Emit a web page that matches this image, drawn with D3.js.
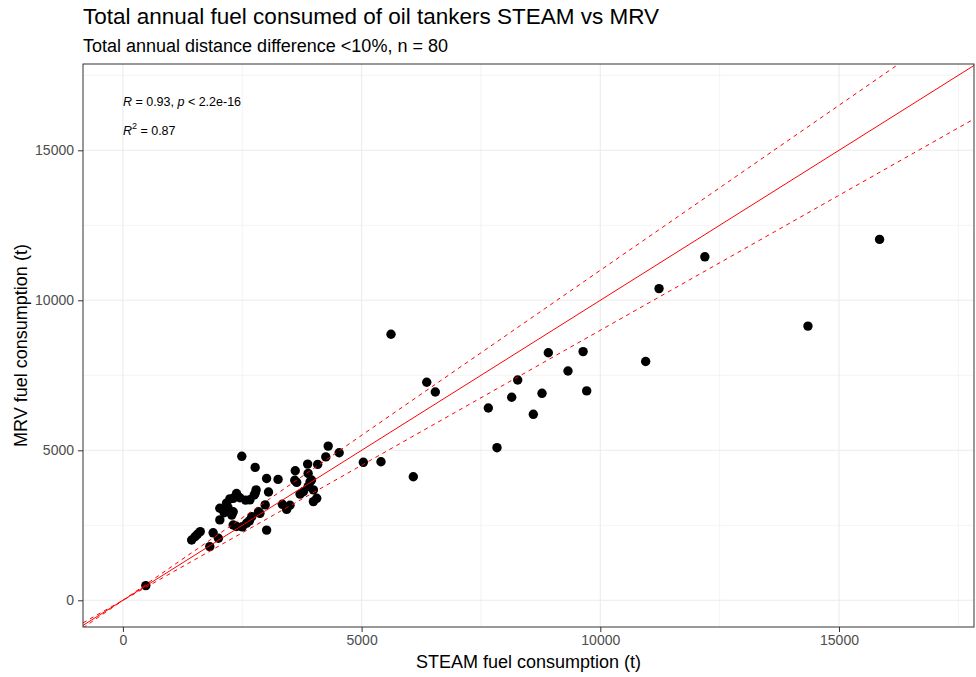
<!DOCTYPE html>
<html><head><meta charset="utf-8">
<script src="https://cdn.jsdelivr.net/npm/d3@7"></script>
<style>body{margin:0;background:#fff}svg{display:block}text{font-family:"Liberation Sans",Arial,sans-serif}</style>
</head><body><svg id="c" width="976" height="677"></svg>
<script>
const steam = [480,15850,12190,11230,14350,10950,9640,9715,5616,6364,6544,8911,9323,8270,8144,8779,7654,8597,7836,5036,5406,6083,
4300,4250,4530,3870,4080,3610,3880,3250,3640,3950,3880,3780,3710,3990,4060,3990,3500,3430,3050,3010,2770,2490,2790,2750,2450,2310,2240,2380,
2170,2030,2030,2310,2310,2590,2700,2840,2980,3010,1890,1820,2000,1510,1620,1440,2570,2770,2380,2280,2500,2650,1560,2120,3600,3920,2870,2200,2660,3340];
const mrv = [490,12030,11450,10390,9140,7960,8290,6980,8867,7267,6943,8253,7643,7343,6767,6900,6410,6200,5087,4600,4620,4120,
5140,4780,4920,4540,4530,4320,4230,4030,3930,4010,3790,3620,3540,3680,3400,3290,3170,3030,3610,4060,4430,4800,3680,3510,3420,3400,3380,3560,
3240,3070,2680,2950,2510,2570,2790,2950,3180,2340,2250,1790,2070,2120,2290,2010,3340,3570,2460,2840,2450,2650,2200,2920,4000,3950,2900,3100,3350,3200];
const xTicks = [0,5000,10000,15000];
const yTicks = [0,5000,10000,15000];
const xMinor = [2500,7500,12500,17500];
const yMinor = [2500,7500,12500,17500];
const refSlopes = [1, 1.1, 0.9];
const title = "Total annual fuel consumed of oil tankers STEAM vs MRV";
const subtitle = "Total annual distance difference <10%, n = 80";

const svg = d3.select("#c");
const L=83,R=974,T=64,B=627;
const x = d3.scaleLinear().domain([-836,17828]).range([L,R]);
const y = d3.scaleLinear().domain([-890,17877]).range([B,T]);

svg.append("defs").append("clipPath").attr("id","clip").append("rect")
  .attr("x",L).attr("y",T).attr("width",R-L).attr("height",B-T);

const g = svg.append("g");
g.selectAll(".vmin").data(xMinor).join("line").attr("x1",d=>x(d)).attr("x2",d=>x(d)).attr("y1",T).attr("y2",B)
  .attr("stroke","#ebebeb").attr("stroke-width",0.6);
g.selectAll(".hmin").data(yMinor).join("line").attr("y1",d=>y(d)).attr("y2",d=>y(d)).attr("x1",L).attr("x2",R)
  .attr("stroke","#ebebeb").attr("stroke-width",0.6);
g.selectAll(".vmaj").data(xTicks).join("line").attr("x1",d=>x(d)).attr("x2",d=>x(d)).attr("y1",T).attr("y2",B)
  .attr("stroke","#ebebeb").attr("stroke-width",1.1);
g.selectAll(".hmaj").data(yTicks).join("line").attr("y1",d=>y(d)).attr("y2",d=>y(d)).attr("x1",L).attr("x2",R)
  .attr("stroke","#ebebeb").attr("stroke-width",1.1);

const pts = steam.map((s,i)=>({s, m:mrv[i]}));
svg.append("g").attr("clip-path","url(#clip)").selectAll("circle").data(pts).join("circle")
  .attr("cx",d=>x(d.s)).attr("cy",d=>y(d.m)).attr("r",4.7).attr("fill","#000");

const lg = svg.append("g").attr("clip-path","url(#clip)");
const x0 = x.domain()[0], x1 = x.domain()[1];
lg.selectAll("line").data(refSlopes).join("line")
  .attr("x1",x(x0)).attr("y1",d=>y(d*x0)).attr("x2",x(x1)).attr("y2",d=>y(d*x1))
  .attr("stroke","#ff0000").attr("stroke-width",1)
  .attr("stroke-dasharray",d=>d===1?null:"4,4");

svg.append("rect").attr("x",L).attr("y",T).attr("width",R-L).attr("height",B-T)
  .attr("fill","none").attr("stroke","#333").attr("stroke-width",1);

const xa = svg.append("g").attr("transform",`translate(0,${B})`)
  .call(d3.axisBottom(x).tickValues(xTicks).tickFormat(d3.format("d")).tickSize(5).tickPadding(3));
const ya = svg.append("g").attr("transform",`translate(${L},0)`)
  .call(d3.axisLeft(y).tickValues(yTicks).tickFormat(d3.format("d")).tickSize(5).tickPadding(4));
[xa,ya].forEach(a=>{
  a.select(".domain").remove();
  a.selectAll("line").attr("stroke","#333");
  a.selectAll("text").attr("fill","#4d4d4d").style("font-size","14px").style("font-family","Liberation Sans, Arial, sans-serif");
});

svg.append("text").attr("x",83).attr("y",24).text(title).style("font-size","22.5px").attr("fill","#000");
svg.append("text").attr("x",83).attr("y",52).text(subtitle).style("font-size","18px").attr("fill","#000");
svg.append("text").attr("x",(L+R)/2).attr("y",668).attr("text-anchor","middle").text("STEAM fuel consumption (t)")
  .style("font-size","18px").attr("fill","#000");
svg.append("text").attr("transform",`translate(27,${(T+B)/2}) rotate(-90)`).attr("text-anchor","middle")
  .text("MRV fuel consumption (t)").style("font-size","18px").attr("fill","#000");

const a1 = svg.append("text").attr("x",x(0)).attr("y",106).style("font-size","12.5px").attr("fill","#000");
a1.append("tspan").text("R").style("font-style","italic");
a1.append("tspan").text(" = 0.93, ");
a1.append("tspan").text("p").style("font-style","italic");
a1.append("tspan").text(" < 2.2e-16");
const a2 = svg.append("text").attr("x",x(0)).attr("y",135).style("font-size","12.5px").attr("fill","#000");
a2.append("tspan").text("R").style("font-style","italic");
a2.append("tspan").text("2").attr("dy",-6).style("font-size","9px");
a2.append("tspan").text(" = 0.87").attr("dy",6);
</script></body></html>
